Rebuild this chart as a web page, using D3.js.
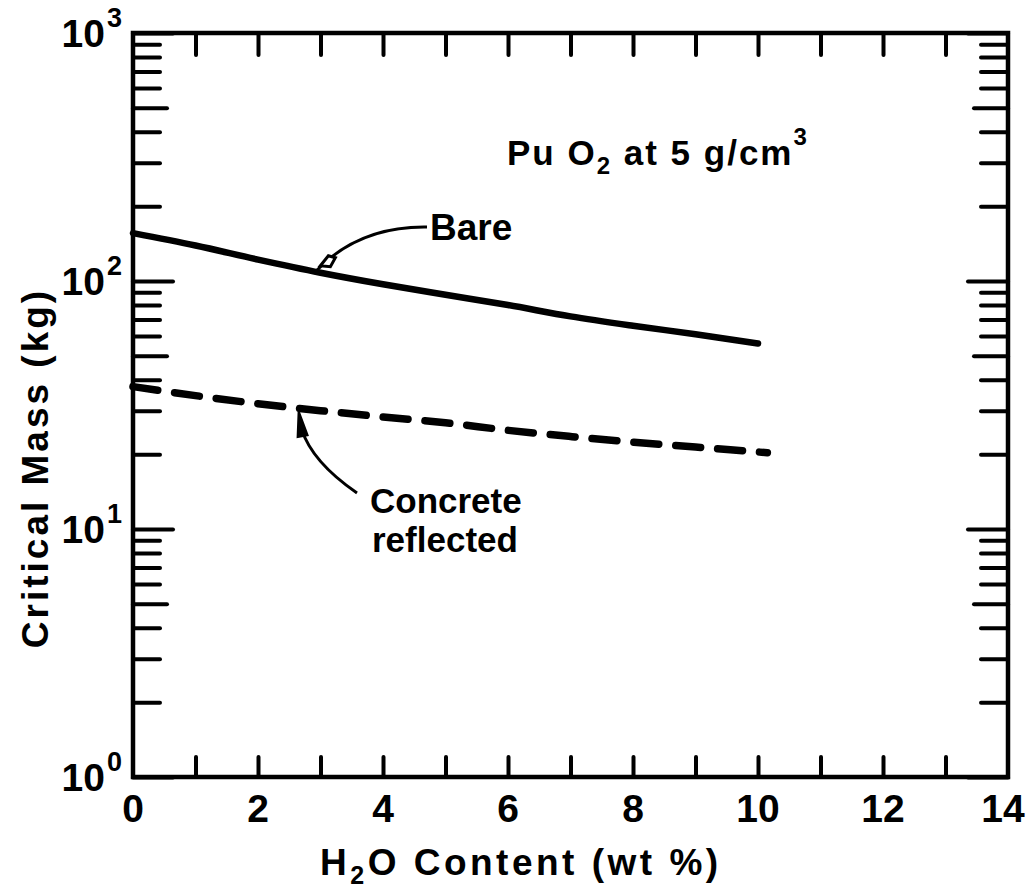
<!DOCTYPE html>
<html>
<head>
<meta charset="utf-8">
<script src="https://cdn.jsdelivr.net/npm/d3@7"></script>
<style>
  body { margin: 0; background: #fff; }
  text { font-family: "Liberation Sans", Arial, sans-serif; font-weight: bold; fill: #000; }
</style>
</head>
<body>
<script>
// values
var waterBare = [0, 1, 2, 3, 4, 5, 6, 7, 8, 9, 10];
var bareMass = [156, 139, 122, 108, 97, 88, 80, 72, 66, 61, 56];
var waterConcrete = [0, 1, 2, 3, 4, 5, 6, 7, 8, 9, 10.15];
var concreteMass = [37.5, 34.5, 32, 30, 28.3, 26.8, 25, 23.6, 22.4, 21.4, 20.3];
var xTicks = [0, 2, 4, 6, 8, 10, 12, 14];
var yDecades = [0, 1, 2, 3];

var width = 1027, height = 890;
var plotLeft = 133, plotRight = 1008, plotTop = 33, plotBottom = 777;

var svg = d3.select("body").append("svg")
  .attr("width", width)
  .attr("height", height);

var x = d3.scaleLinear().domain([0, 14]).range([plotLeft, plotRight]);
var y = d3.scaleLog().domain([1, 1000]).range([plotBottom, plotTop]);

// all log ticks 1..1000
var yTickVals = [];
for (var d = 0; d < 3; d++) {
  for (var k = 1; k <= 9; k++) yTickVals.push(k * Math.pow(10, d));
}
yTickVals.push(1000);

function tickLen(v) {
  var m = v / Math.pow(10, Math.floor(Math.log10(v) + 1e-9));
  if (Math.abs(m - 1) < 1e-6) return 40;
  if (Math.abs(m - 5) < 1e-6) return 34;
  return 27;
}

// x axes (bottom and top), inward ticks
svg.append("g")
  .attr("transform", "translate(0," + plotBottom + ")")
  .call(d3.axisBottom(x).tickValues(d3.range(1, 14)).tickSize(-20).tickFormat(""));
svg.append("g")
  .attr("transform", "translate(0," + plotTop + ")")
  .call(d3.axisTop(x).tickValues(d3.range(1, 14)).tickSize(-22).tickFormat(""));

// y axes (left and right)
var yl = svg.append("g")
  .attr("transform", "translate(" + plotLeft + ",0)")
  .call(d3.axisLeft(y).tickValues(yTickVals).tickFormat(""));
yl.selectAll(".tick line").attr("x2", function(v) { return tickLen(v); });
var yr = svg.append("g")
  .attr("transform", "translate(" + plotRight + ",0)")
  .call(d3.axisRight(y).tickValues(yTickVals).tickFormat(""));
yr.selectAll(".tick line").attr("x2", function(v) { return -tickLen(v); });

svg.selectAll(".domain").remove();
svg.selectAll(".tick line")
  .attr("stroke", "#000")
  .attr("stroke-width", 4)
  .attr("stroke-linecap", "round");

// frame
svg.append("rect")
  .attr("x", plotLeft).attr("y", plotTop)
  .attr("width", plotRight - plotLeft).attr("height", plotBottom - plotTop)
  .attr("fill", "none")
  .attr("stroke", "#000")
  .attr("stroke-width", 4.5);

// x tick labels
svg.selectAll(".xlab").data(xTicks).enter()
  .append("text")
  .attr("class", "xlab")
  .attr("x", function(d) { return x(d) - (d === 14 ? 5 : 0); })
  .attr("y", 822)
  .attr("text-anchor", "middle")
  .attr("font-size", 39)
  .text(function(d) { return d; });

// y tick labels 10^n
svg.selectAll(".ylab").data(yDecades).enter()
  .append("text")
  .attr("class", "ylab")
  .attr("x", 105)
  .attr("y", function(d) { return y(Math.pow(10, d)) + 14; })
  .attr("text-anchor", "end")
  .attr("font-size", 39)
  .text("10");
svg.selectAll(".ysup").data(yDecades).enter()
  .append("text")
  .attr("class", "ysup")
  .attr("x", 107)
  .attr("y", function(d) { return y(Math.pow(10, d)) - 6; })
  .attr("font-size", 27)
  .text(function(d) { return d; });

// axis titles
svg.append("text")
  .attr("transform", "translate(48,468) rotate(-90)")
  .attr("text-anchor", "middle")
  .attr("font-size", 37)
  .attr("letter-spacing", 3)
  .text("Critical Mass (kg)");

var xTitle = svg.append("text")
  .attr("x", 320).attr("y", 875)
  .attr("font-size", 37)
  .attr("letter-spacing", 3.5);
xTitle.append("tspan").text("H");
xTitle.append("tspan").attr("font-size", 25).attr("dy", 9).text("2");
xTitle.append("tspan").attr("dy", -9).text("O  Content  (wt %)");

// curves
var line = d3.line()
  .x(function(d) { return x(d[0]); })
  .y(function(d) { return y(d[1]); })
  .curve(d3.curveMonotoneX);

svg.append("path")
  .datum(d3.zip(waterBare, bareMass))
  .attr("d", line)
  .attr("fill", "none")
  .attr("stroke", "#000")
  .attr("stroke-width", 6.5)
  .attr("stroke-linecap", "round");

svg.append("path")
  .datum(d3.zip(waterConcrete, concreteMass))
  .attr("d", line)
  .attr("fill", "none")
  .attr("stroke", "#000")
  .attr("stroke-width", 7.5)
  .attr("stroke-linecap", "round")
  .attr("stroke-dasharray", "25,17");

// title
var title = svg.append("text")
  .attr("x", 507).attr("y", 165)
  .attr("font-size", 35)
  .attr("letter-spacing", 2);
title.append("tspan").text("Pu O");
title.append("tspan").attr("font-size", 24).attr("dy", 9).text("2");
title.append("tspan").attr("dy", -9).text(" at 5 g/cm");
title.append("tspan").attr("font-size", 24).attr("dy", -20).text("3");

// Bare label and leader
svg.append("text")
  .attr("x", 430).attr("y", 240)
  .attr("font-size", 37)
  .text("Bare");

var bareTip = [x(2.95), y(108) - 3];
svg.append("path")
  .attr("d", "M427,227 Q360,226 " + bareTip[0] + "," + bareTip[1])
  .attr("fill", "none")
  .attr("stroke", "#000")
  .attr("stroke-width", 3);
svg.append("path")
  .attr("d", "M" + (bareTip[0] + 3) + "," + (bareTip[1] - 4) + " l8,-10 l7,2 l-5,9 z")
  .attr("fill", "#fff")
  .attr("stroke", "#000")
  .attr("stroke-width", 3);

// Concrete reflected label and leader
svg.append("text")
  .attr("x", 370).attr("y", 513)
  .attr("font-size", 35)
  .text("Concrete");
svg.append("text")
  .attr("x", 372).attr("y", 552)
  .attr("font-size", 35)
  .text("reflected");

var concTip = [x(2.65), y(31) + 4];
svg.append("path")
  .attr("d", "M357,493 Q312,462 " + (concTip[0] + 3) + "," + (concTip[1] + 18))
  .attr("fill", "none")
  .attr("stroke", "#000")
  .attr("stroke-width", 3);
svg.append("path")
  .attr("d", "M" + concTip[0] + "," + concTip[1] +
        " L" + (concTip[0] + 9) + "," + (concTip[1] + 24) +
        " L" + (concTip[0] - 1) + "," + (concTip[1] + 26) + " Z")
  .attr("fill", "#000")
  .attr("stroke", "#000")
  .attr("stroke-width", 2);
</script>
</body>
</html>
